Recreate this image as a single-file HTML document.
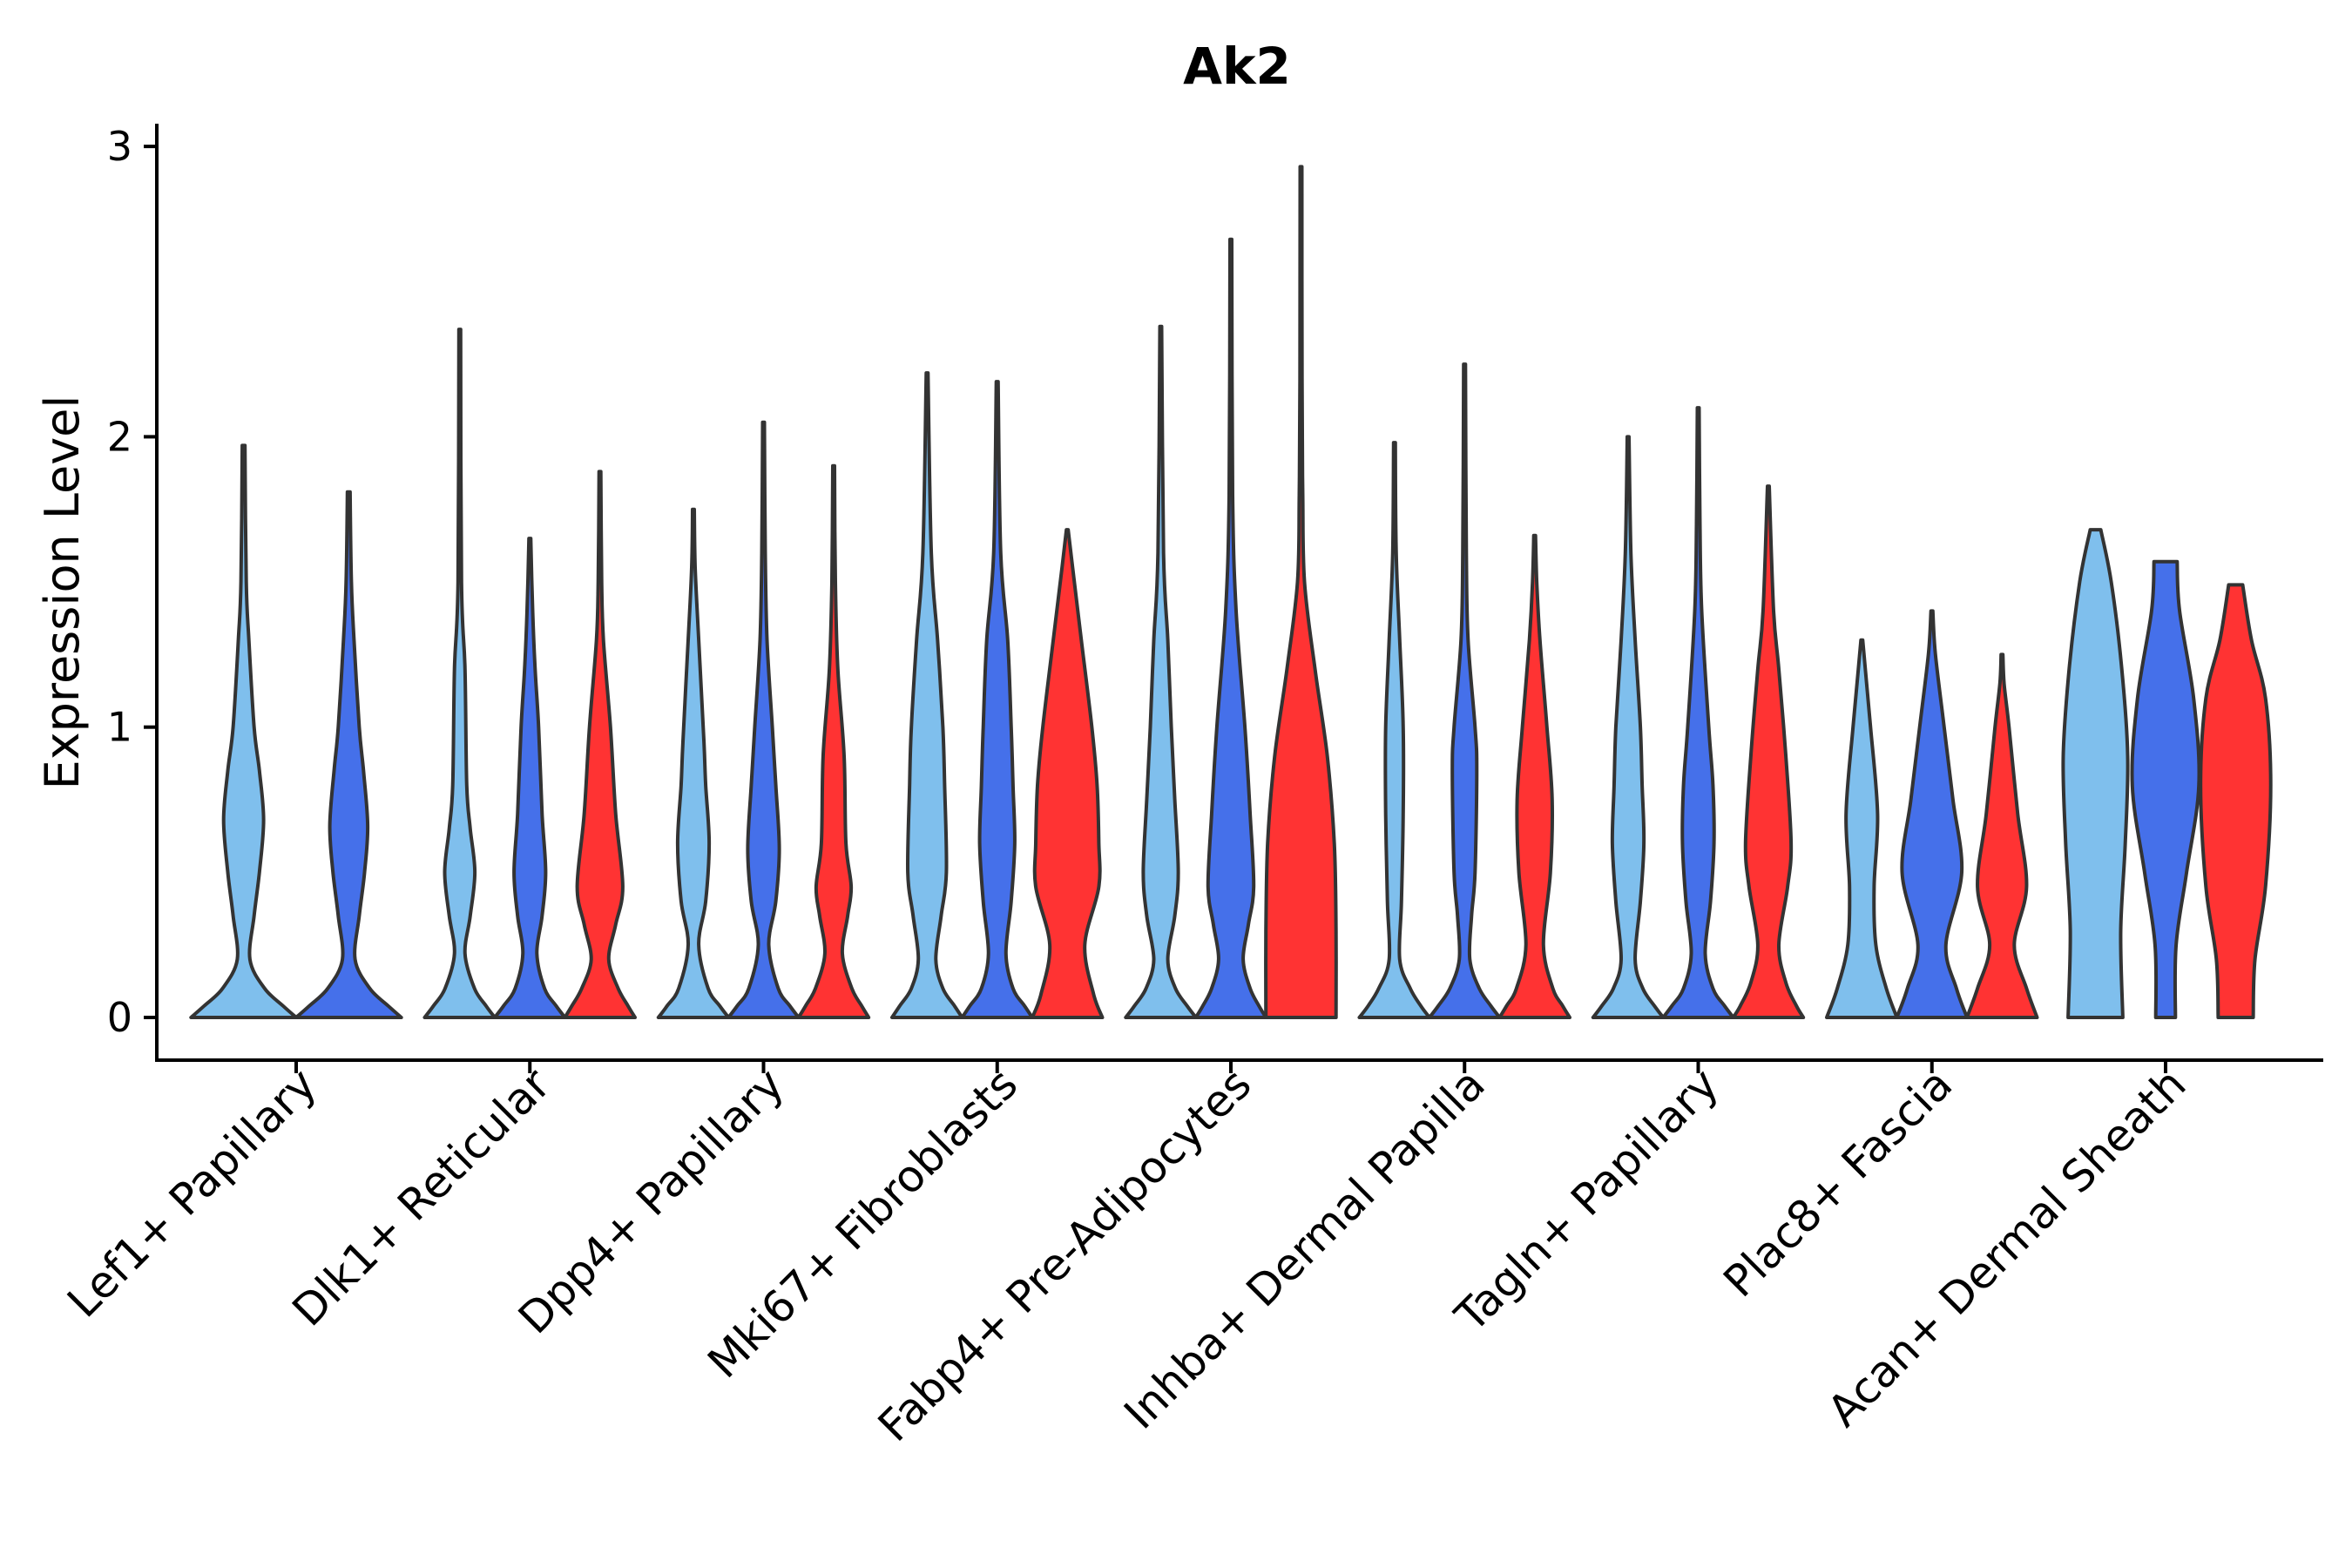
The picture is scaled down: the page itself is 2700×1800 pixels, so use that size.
<!DOCTYPE html>
<html><head><meta charset="utf-8">
<style>
html,body{margin:0;padding:0;background:#fff;}
svg{display:block;font-family:"DejaVu Sans","Liberation Sans",sans-serif;}
</style></head>
<body>
<svg id="chart" width="2700" height="1800" viewBox="0 0 2700 1800" xmlns="http://www.w3.org/2000/svg">
<text x="1420" y="96" text-anchor="middle" font-size="58" font-weight="bold">Ak2</text>
<text transform="translate(90,680) rotate(-90)" text-anchor="middle" font-size="54">Expression Level</text>
<g id="plot"></g>
</svg>
<script>
const categories = ["Lef1+ Papillary","Dlk1+ Reticular","Dpp4+ Papillary","Mki67+ Fibroblasts","Fabp4+ Pre-Adipocytes","Inhba+ Dermal Papilla","Tagln+ Papillary","Plac8+ Fascia","Acan+ Dermal Sheath"];
const yTicks = [0,1,2,3];
const groupColors = ["#7FBFED","#4570EA","#FF3333"];
// max expression per violin [light-blue, blue, red]; null = group absent
const maxLightBlue = [1.97,2.37,1.75,2.22,2.38,1.98,2.0,1.3,1.68];
const maxBlue = [1.81,1.65,2.05,2.19,2.68,2.25,2.1,1.4,1.57];
const maxRed = [null,1.88,1.9,1.68,2.93,1.66,1.83,1.25,1.49];
// density knots [value, relative width]
const shapesLightBlue = [
 [[0,1],[0.04,0.75],[0.1,0.4],[0.2,0.12],[0.35,0.2],[0.5,0.3],[0.68,0.38],[0.85,0.3],[1.0,0.2],[1.3,0.1],[1.5,0.05]],
 [[0,1],[0.04,0.75],[0.1,0.42],[0.22,0.15],[0.35,0.3],[0.5,0.43],[0.65,0.3],[0.8,0.2],[1.2,0.15],[1.5,0.05]],
 [[0,1],[0.04,0.75],[0.1,0.42],[0.25,0.15],[0.4,0.35],[0.6,0.45],[0.8,0.35],[0.95,0.3],[1.3,0.15],[1.55,0.05]],
 [[0,1],[0.04,0.78],[0.1,0.45],[0.2,0.25],[0.35,0.4],[0.5,0.55],[0.8,0.5],[1.0,0.45],[1.3,0.3],[1.6,0.12]],
 [[0,1],[0.04,0.75],[0.1,0.42],[0.2,0.2],[0.35,0.4],[0.5,0.5],[0.75,0.4],[1.0,0.3],[1.3,0.2],[1.6,0.08]],
 [[0,1],[0.04,0.75],[0.1,0.45],[0.2,0.15],[0.4,0.2],[0.7,0.25],[1.0,0.25],[1.3,0.15],[1.6,0.05]],
 [[0,1],[0.04,0.75],[0.1,0.42],[0.2,0.2],[0.4,0.35],[0.6,0.45],[0.8,0.4],[1.0,0.35],[1.3,0.2],[1.6,0.08]],
 [[0,1],[0.1,0.7],[0.25,0.4],[0.45,0.35],[0.7,0.45],[1.0,0.25],[1.2,0.1]],
 [[0,0.78],[0.3,0.72],[0.6,0.85],[0.9,0.92],[1.2,0.75],[1.5,0.45]]
];
const shapesBlue = [
 [[0,1],[0.04,0.75],[0.1,0.4],[0.2,0.12],[0.35,0.2],[0.5,0.3],[0.66,0.36],[0.85,0.28],[1.0,0.2],[1.3,0.1],[1.5,0.05]],
 [[0,1],[0.04,0.75],[0.1,0.42],[0.22,0.2],[0.35,0.35],[0.5,0.45],[0.7,0.35],[1.0,0.25],[1.2,0.15],[1.4,0.08]],
 [[0,1],[0.04,0.75],[0.1,0.42],[0.25,0.15],[0.4,0.35],[0.58,0.45],[0.8,0.35],[1.0,0.25],[1.3,0.1],[1.6,0.05]],
 [[0,1],[0.04,0.78],[0.1,0.45],[0.22,0.25],[0.4,0.4],[0.6,0.5],[0.8,0.45],[1.0,0.4],[1.3,0.3],[1.6,0.1]],
 [[0,1],[0.04,0.8],[0.1,0.55],[0.2,0.35],[0.32,0.5],[0.45,0.65],[0.7,0.55],[1.0,0.4],[1.4,0.15],[1.8,0.05]],
 [[0,1],[0.04,0.75],[0.1,0.42],[0.2,0.15],[0.35,0.2],[0.5,0.3],[0.85,0.35],[1.0,0.3],[1.3,0.1],[1.6,0.05]],
 [[0,1],[0.04,0.75],[0.1,0.42],[0.22,0.2],[0.4,0.35],[0.6,0.45],[0.8,0.42],[1.0,0.3],[1.4,0.1],[1.7,0.05]],
 [[0,1],[0.1,0.7],[0.25,0.4],[0.5,0.85],[0.75,0.6],[1.0,0.35],[1.25,0.1]],
 [[0,0.28],[0.25,0.3],[0.5,0.6],[0.8,0.95],[1.1,0.8],[1.4,0.4]]
];
const shapesRed = [
 null,
 [[0,1],[0.04,0.8],[0.1,0.52],[0.2,0.25],[0.32,0.45],[0.45,0.65],[0.7,0.45],[1.0,0.3],[1.3,0.1],[1.5,0.05]],
 [[0,1],[0.04,0.8],[0.1,0.52],[0.22,0.25],[0.35,0.4],[0.45,0.5],[0.6,0.35],[0.9,0.3],[1.2,0.12],[1.5,0.05]],
 [[0,1],[0.08,0.75],[0.25,0.5],[0.45,0.9],[0.6,0.9],[0.8,0.85],[1.0,0.7],[1.3,0.4],[1.55,0.15]],
 [[0,1],[0.3,1],[0.6,0.95],[0.9,0.75],[1.2,0.4],[1.5,0.1],[1.8,0.05],[2.2,0.03]],
 [[0,1],[0.04,0.8],[0.1,0.52],[0.25,0.25],[0.5,0.45],[0.75,0.5],[1.0,0.35],[1.3,0.15],[1.5,0.06]],
 [[0,1],[0.04,0.8],[0.12,0.5],[0.25,0.3],[0.45,0.55],[0.6,0.65],[0.9,0.5],[1.2,0.3],[1.4,0.15]],
 [[0,1],[0.1,0.7],[0.25,0.35],[0.45,0.7],[0.7,0.45],[1.0,0.2],[1.15,0.06]],
 [[0,0.5],[0.2,0.55],[0.45,0.85],[0.8,1],[1.1,0.85],[1.3,0.45]]
];
const topWidthsAcan = [0.15,0.33,0.2];

const X0=340, STEP=268.25, Y0=1168, PXU=333.3;
const xScale = i => X0 + i*STEP;
const yScale = v => Y0 - v*PXU;
const NS="http://www.w3.org/2000/svg";
const plot=document.getElementById('plot');
function mk(tag, attrs){const e=document.createElementNS(NS,tag);for(const k in attrs)e.setAttribute(k,attrs[k]);plot.appendChild(e);return e;}

function smoothPath(pts){
  let d="";
  for(let i=0;i<pts.length-1;i++){
    const p0=pts[Math.max(i-1,0)],p1=pts[i],p2=pts[i+1],p3=pts[Math.min(i+2,pts.length-1)];
    const c1=[p1[0]+(p2[0]-p0[0])/6,p1[1]+(p2[1]-p0[1])/6];
    const c2=[p2[0]-(p3[0]-p1[0])/6,p2[1]-(p3[1]-p1[1])/6];
    d+=` C${c1[0].toFixed(1)},${c1[1].toFixed(1)} ${c2[0].toFixed(1)},${c2[1].toFixed(1)} ${p2[0].toFixed(1)},${p2[1].toFixed(1)}`;
  }
  return d;
}

const maxes=[maxLightBlue,maxBlue,maxRed];
const shapes=[shapesLightBlue,shapesBlue,shapesRed];
const groupNames=["light-blue","blue","red"];
categories.forEach((cat,ci)=>{
  const present=[0,1,2].filter(g=>maxes[g][ci]!=null && shapes[g][ci]);
  const n=present.length;
  const half = STEP*0.9/n/2;
  present.forEach((g,k)=>{
    const cx = xScale(ci) + (k-(n-1)/2)*(STEP*0.9/n);
    const mx = maxes[g][ci];
    let kn = shapes[g][ci].filter(p=>p[0]<mx-0.05).slice();
    const topW = ci===8 ? topWidthsAcan[g] : 0.025;
    kn.push([mx,topW]);
    const right = kn.map(p=>[cx+p[1]*half, yScale(p[0])]);
    const left = kn.slice().reverse().map(p=>[cx-p[1]*half, yScale(p[0])]);
    let d=`M${right[0][0].toFixed(1)},${right[0][1].toFixed(1)}`+smoothPath(right);
    d+=` L${left[0][0].toFixed(1)},${left[0][1].toFixed(1)}`+smoothPath(left)+" Z";
    const p=mk('path',{d:d,fill:groupColors[g],stroke:"#333333","stroke-width":4,"stroke-linejoin":"round"});
    
    
  });
  const t=mk('line',{x1:xScale(ci),x2:xScale(ci),y1:1217,y2:1232,stroke:"#000","stroke-width":4});
  
  
  const lx=xScale(ci)+26, ly=1248;
  const lb=mk('text',{x:lx,y:ly,"text-anchor":"end","font-size":50,transform:`rotate(-45 ${lx} ${ly})`});
  lb.textContent=cat;
  
  
});
yTicks.forEach(v=>{
  const t=mk('line',{x1:165,x2:180,y1:yScale(v),y2:yScale(v),stroke:"#000","stroke-width":4});
  
  
  const lb=mk('text',{x:152,y:yScale(v)+16,"text-anchor":"end","font-size":46});
  lb.textContent=v;
  
  
});
const ya=mk('line',{x1:180,x2:180,y1:142,y2:1219,stroke:"#000","stroke-width":4});


const xa=mk('line',{x1:178,x2:2667,y1:1217,y2:1217,stroke:"#000","stroke-width":4});


</script>
</body></html>
